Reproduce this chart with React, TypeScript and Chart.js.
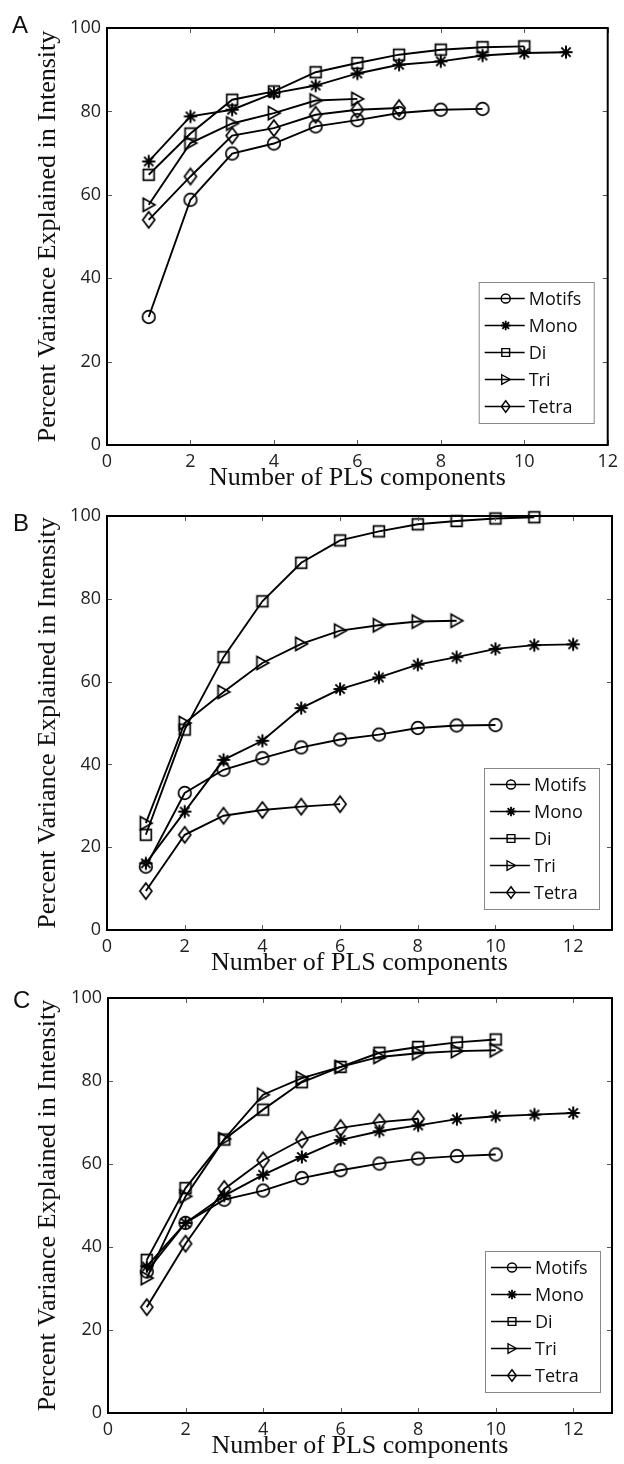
import React, { useEffect, useRef } from "react";
import { Chart, registerables } from "chart.js";

Chart.register(...registerables);

// ---------------- data ----------------
const components = [1, 2, 3, 4, 5, 6, 7, 8, 9, 10, 11, 12];
const seriesNames = ["Motifs", "Mono", "Di", "Tri", "Tetra"];
const markerKinds = ["circle", "star", "square", "triangleRight", "diamond"];
const xTickValues = [0, 2, 4, 6, 8, 10, 12];
const yTickValues = [0, 20, 40, 60, 80, 100];
const panelLetters = ["A", "B", "C"];
const xMaxByPanel = [12, 13, 13];
const xAxisTitle = "Number of PLS components";
const yAxisTitle = "Percent Variance Explained in Intensity";

const motifsA = [30.7, 58.8, 69.9, 72.3, 76.4, 77.9, 79.6, 80.4, 80.6];
const monoA = [68.0, 78.8, 80.4, 84.4, 86.2, 89.1, 91.2, 92.0, 93.4, 94.0, 94.2];
const diA = [64.8, 74.7, 82.8, 84.8, 89.4, 91.6, 93.6, 94.8, 95.4, 95.6];
const triA = [57.6, 72.4, 77.1, 79.6, 82.6, 83.0];
const tetraA = [54.0, 64.4, 74.2, 76.0, 79.2, 80.4, 80.8];

const motifsB = [15.3, 33.1, 38.7, 41.5, 44.1, 46.0, 47.2, 48.8, 49.4, 49.5];
const monoB = [16.1, 28.6, 41.1, 45.7, 53.6, 58.2, 61.0, 64.1, 65.9, 67.9, 68.8, 69.0];
const diB = [23.0, 48.4, 65.9, 79.4, 88.7, 94.1, 96.3, 98.0, 98.8, 99.4, 99.7];
const triB = [25.8, 50.0, 57.5, 64.5, 69.1, 72.3, 73.6, 74.5, 74.7];
const tetraB = [9.4, 23.0, 27.6, 29.0, 29.8, 30.4];

const motifsC = [34.1, 45.8, 51.4, 53.6, 56.6, 58.5, 60.1, 61.3, 61.9, 62.3];
const monoC = [35.3, 45.8, 52.4, 57.4, 61.7, 65.8, 67.9, 69.3, 70.8, 71.5, 71.9, 72.3];
const diC = [36.9, 54.2, 65.9, 73.1, 79.7, 83.4, 86.8, 88.2, 89.3, 90.0];
const triC = [32.5, 52.2, 66.0, 76.7, 80.7, 83.4, 85.8, 86.7, 87.2, 87.4];
const tetraC = [25.5, 40.8, 54.0, 60.9, 65.9, 68.7, 70.1, 70.9];

const seriesByPanel = [
  [motifsA, monoA, diA, triA, tetraA],
  [motifsB, monoB, diB, triB, tetraB],
  [motifsC, monoC, diC, triC, tetraC],
];

// ---------------- layout ----------------
const W = 624;
const panelLayouts = [
  { top: 0, height: 500, left: 107, right: 611, plotTop: 28, plotBottom: 445, legendRight: 14, legendBottom: 22, letterX: 12, letterY: 33 },
  { top: 488, height: 500, left: 107, right: 612, plotTop: 28, plotBottom: 442, legendRight: 13, legendBottom: 21, letterX: 13, letterY: 43 },
  { top: 976, height: 488, left: 108, right: 612, plotTop: 22, plotBottom: 437, legendRight: 12, legendBottom: 21, letterX: 13, letterY: 32 },
];

const TICK_FONT = "Open Sans";
const SERIF = "Liberation Serif";

function drawMarkerPath(ctx: CanvasRenderingContext2D, kind: string, cx: number, cy: number, s: number) {
  ctx.beginPath();
  switch (kind) {
    case "circle":
      ctx.arc(cx, cy, 6.3 * s, 0, Math.PI * 2);
      break;
    case "square":
      ctx.rect(cx - 5.4 * s, cy - 5.4 * s, 10.8 * s, 10.8 * s);
      break;
    case "triangleRight":
      ctx.moveTo(cx - 5.5 * s, cy - 6.6 * s);
      ctx.lineTo(cx + 6.2 * s, cy);
      ctx.lineTo(cx - 5.5 * s, cy + 6.6 * s);
      ctx.closePath();
      break;
    case "diamond":
      ctx.moveTo(cx, cy - 8 * s);
      ctx.lineTo(cx + 6 * s, cy);
      ctx.lineTo(cx, cy + 8 * s);
      ctx.lineTo(cx - 6 * s, cy);
      ctx.closePath();
      break;
    case "star":
      for (let k = 0; k < 4; k++) {
        const a = (k * Math.PI) / 4;
        const r = 6.6 * s;
        ctx.moveTo(cx - r * Math.cos(a), cy - r * Math.sin(a));
        ctx.lineTo(cx + r * Math.cos(a), cy + r * Math.sin(a));
      }
      break;
  }
  ctx.stroke();
}

function makeMarker(kind: string): HTMLCanvasElement {
  const c = document.createElement("canvas");
  c.width = 24;
  c.height = 24;
  const ctx = c.getContext("2d")!;
  ctx.strokeStyle = "#000";
  ctx.lineWidth = kind === "star" ? 2 : 1.7;
  drawMarkerPath(ctx, kind, 12, 12, 1);
  return c;
}

function Panel({ index }: { index: number }) {
  const ref = useRef<HTMLCanvasElement | null>(null);
  const lay = panelLayouts[index];

  useEffect(() => {
    const canvas = ref.current;
    if (!canvas) return;
    const markers = markerKinds.map((k) => makeMarker(k));
    const series = seriesByPanel[index];

    const datasets = series.map((vals, k) => ({
      label: seriesNames[k],
      data: vals.map((v, i) => ({ x: components[i], y: v })),
      borderColor: "#000",
      borderWidth: 1.9,
      pointStyle: markers[k] as any,
      pointRadius: 6,
      pointBorderColor: "#000",
      pointBackgroundColor: "rgba(0,0,0,0)",
      tension: 0,
      clip: false as any,
      fill: false,
    }));

    const decor = {
      id: "decor" + index,
      afterDraw(chart: any) {
        const ctx: CanvasRenderingContext2D = chart.ctx;
        const a = chart.chartArea;
        const sx = chart.scales.x;
        const sy = chart.scales.y;
        ctx.save();
        // inward tick marks
        ctx.strokeStyle = "#555";
        ctx.lineWidth = 1;
        ctx.beginPath();
        xTickValues.forEach((v) => {
          const px = Math.round(sx.getPixelForValue(v)) + 0.5;
          ctx.moveTo(px, a.bottom);
          ctx.lineTo(px, a.bottom - 5);
          ctx.moveTo(px, a.top);
          ctx.lineTo(px, a.top + 5);
        });
        yTickValues.forEach((v) => {
          const py = Math.round(sy.getPixelForValue(v)) + 0.5;
          ctx.moveTo(a.left, py);
          ctx.lineTo(a.left + 5, py);
          ctx.moveTo(a.right, py);
          ctx.lineTo(a.right - 5, py);
        });
        ctx.stroke();
        // box
        ctx.strokeStyle = "#000";
        ctx.lineWidth = 2;
        ctx.strokeRect(a.left, a.top, a.right - a.left, a.bottom - a.top);

        // legend
        const lw = 115;
        const lh = 141;
        const lx = a.right - lay.legendRight - lw;
        const ly = a.bottom - lay.legendBottom - lh;
        ctx.fillStyle = "#fff";
        ctx.fillRect(lx, ly, lw, lh);
        ctx.strokeStyle = "#888";
        ctx.lineWidth = 1;
        ctx.strokeRect(lx + 0.5, ly + 0.5, lw, lh);
        ctx.font = `18px "${TICK_FONT}"`;
        ctx.textAlign = "left";
        ctx.textBaseline = "middle";
        seriesNames.forEach((name, k) => {
          const cy = ly + 16.5 + k * 27;
          ctx.strokeStyle = "#000";
          ctx.lineWidth = 1.7;
          ctx.beginPath();
          ctx.moveTo(lx + 6, cy);
          ctx.lineTo(lx + 46, cy);
          ctx.stroke();
          ctx.lineWidth = markerKinds[k] === "star" ? 1.8 : 1.4;
          drawMarkerPath(ctx, markerKinds[k], lx + 27, cy, 0.72);
          ctx.fillStyle = "#111";
          ctx.fillText(name, lx + 50, cy + 1);
        });

        // axis titles
        ctx.fillStyle = "#111";
        ctx.font = `26px "${SERIF}"`;
        ctx.textAlign = "center";
        ctx.textBaseline = "alphabetic";
        ctx.fillText(xAxisTitle, (a.left + a.right) / 2, a.bottom + 40);
        ctx.save();
        ctx.translate(55, (a.top + a.bottom) / 2);
        ctx.rotate(-Math.PI / 2);
        ctx.fillText(yAxisTitle, 0, 0);
        ctx.restore();

        // panel letter
        ctx.font = `24px "Liberation Sans"`;
        ctx.textAlign = "left";
        ctx.fillText(panelLetters[index], lay.letterX, lay.letterY);
        ctx.restore();
      },
    };

    const tickFont = { family: TICK_FONT, size: 18 };
    const chart = new Chart(canvas, {
      type: "line",
      data: { datasets: datasets as any },
      options: {
        animation: false,
        responsive: false,
        maintainAspectRatio: false,
        events: [],
        layout: { padding: { top: lay.plotTop, right: W - lay.right, left: 0, bottom: 0 } },
        plugins: { legend: { display: false }, tooltip: { enabled: false }, title: { display: false } },
        scales: {
          x: {
            type: "linear",
            min: 0,
            max: xMaxByPanel[index],
            afterBuildTicks: (s: any) => {
              s.ticks = xTickValues.map((v) => ({ value: v }));
            },
            afterFit: (s: any) => {
              s.height = lay.height - lay.plotBottom;
            },
            grid: { display: false, drawTicks: false },
            border: { display: false },
            ticks: { padding: 6, font: tickFont, color: "#222", maxRotation: 0, autoSkip: false },
          },
          y: {
            type: "linear",
            min: 0,
            max: 100,
            afterBuildTicks: (s: any) => {
              s.ticks = yTickValues.map((v) => ({ value: v }));
            },
            afterFit: (s: any) => {
              s.width = lay.left;
            },
            grid: { display: false, drawTicks: false },
            border: { display: false },
            ticks: { padding: 6, font: tickFont, color: "#222", autoSkip: false },
          },
        },
      } as any,
      plugins: [decor],
    });
    return () => chart.destroy();
  }, [index]);

  return (
    <canvas
      ref={ref}
      width={W}
      height={lay.height}
      style={{ position: "absolute", left: 0, top: lay.top, width: W, height: lay.height, display: "block" }}
    />
  );
}

export default function App() {
  return (
    <div style={{ position: "absolute", left: 0, top: 0, width: W, height: 1464, overflow: "hidden", background: "#fff" }}>
      {panelLayouts.map((_, i) => (
        <Panel key={i} index={i} />
      ))}
    </div>
  );
}
